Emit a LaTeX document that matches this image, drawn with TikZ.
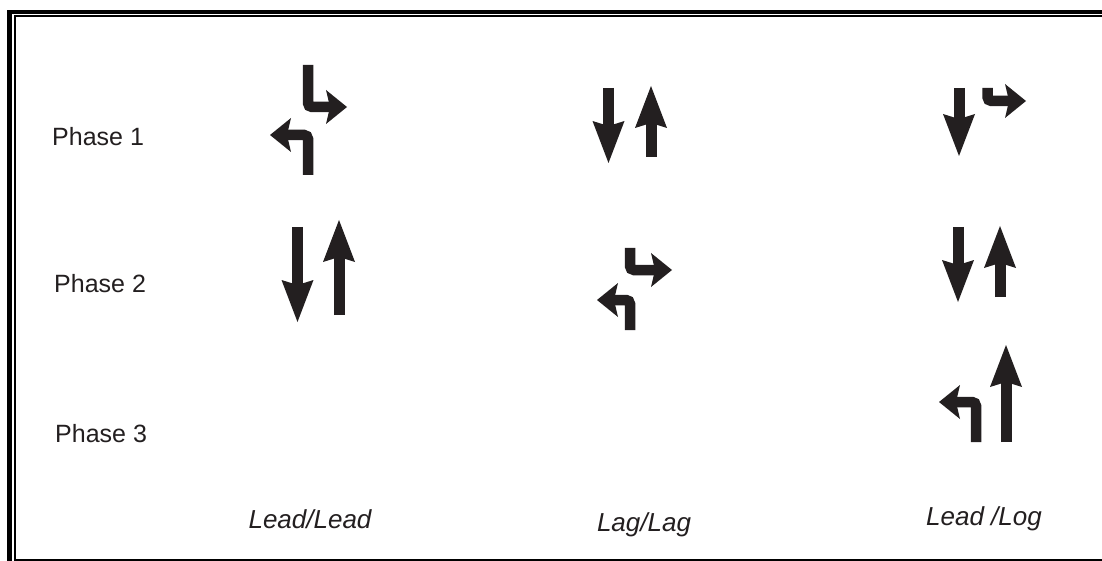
\documentclass[tikz,border=0pt]{standalone}
\usepackage{fontspec}
\setmainfont{Liberation Sans}
\usetikzlibrary{arrows.meta}
\definecolor{ink}{HTML}{231F20}
\begin{document}
\begin{tikzpicture}[x=1pt,y=-1pt,
  stem/.style={draw=ink,line width=11pt},
  tall/.style={stem,-{Stealth[length=42pt,width=32pt,inset=5pt,line width=0pt]}},
  turn/.style={stem,line width=10.5pt,rounded corners=4pt,-{Stealth[length=21pt,width=34pt,inset=4pt,line width=0pt]}},
  phase/.style={anchor=base west,inner sep=0pt,font=\fontsize{25}{30}\selectfont,text=ink},
  plan/.style={anchor=base,inner sep=0pt,font=\fontsize{26}{31}\selectfont\itshape,text=ink},
  rule/.style={fill=black},
]
\useasboundingbox[fill=white] (0,0) rectangle (1102,561);

% double frame: heavy outer line, thin inner line
\fill[rule] (7,10) rectangle (12,561);
\fill[rule] (7,10) rectangle (1102,14);
\fill[rule] (13.5,15.5) rectangle (15.5,559);
\fill[rule] (13.5,15.5) rectangle (1102,17.5);
\fill[rule] (13.5,559) rectangle (1102,561);

% row labels
\node[phase] (p1) at (52,146) {Phase 1};
\node[phase] (p2) at (54,292) {Phase 2};
\node[phase] (p3) at (55,442) {Phase 3};

% column labels
\node[plan] (c1) at (310,528) {Lead/Lead};
\node[plan] (c2) at (644,531) {Lag/Lag};
\node[plan] (c3) at (984,525) {Lead /Log};

% Lead/Lead
\draw[turn] (308,65) -- (308,107) -- (347,107);
\draw[turn] (308,175) -- (308,135) -- (270,135);
\draw[tall] (297.5,227) -- (297.5,322);
\draw[tall] (339,315) -- (339,220);

% Lag/Lag
\draw[tall] (608.5,88) -- (608.5,163);
\draw[tall] (651,157) -- (651,86);
\draw[turn] (630,248) -- (630,270) -- (672,270);
\draw[turn] (630,330) -- (630,300) -- (597,300);

% Lead/Lag
\draw[tall] (959,88) -- (959,156);
\draw[turn] (987.5,88) -- (987.5,101) -- (1026,101);
\draw[tall] (958,227) -- (958,302);
\draw[tall] (1000,297) -- (1000,226);
\draw[turn] (976,442) -- (976,402) -- (939,402);
\draw[tall] (1006,442) -- (1006,345);
\end{tikzpicture}
\end{document}
